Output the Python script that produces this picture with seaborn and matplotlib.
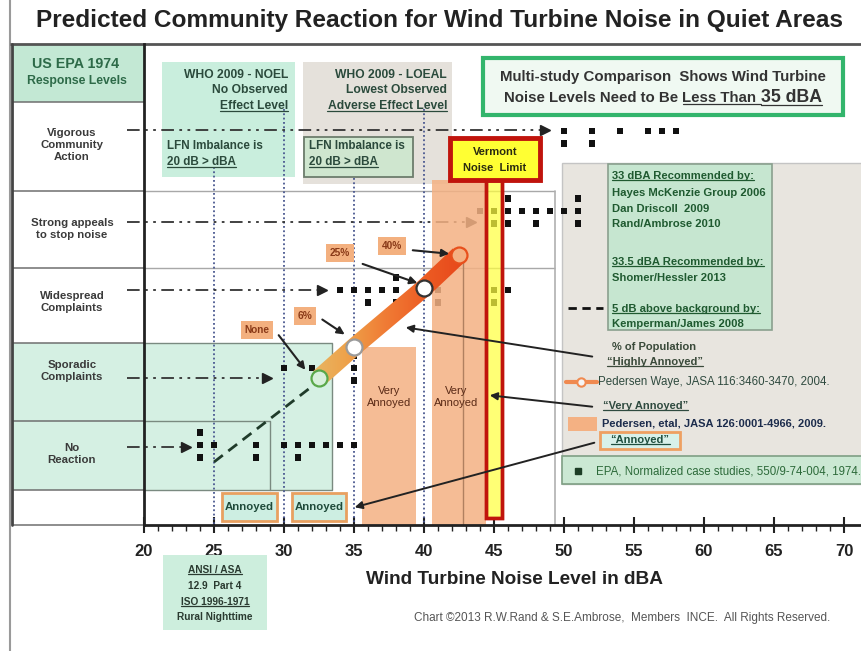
import numpy as np
import pandas as pd
import matplotlib
matplotlib.use("Agg")
import matplotlib.pyplot as plt
import seaborn as sns
from matplotlib.patches import Rectangle, Polygon
from matplotlib.colors import LinearSegmentedColormap

sns.set_theme(style="white")
plt.rcParams['font.family'] = ['Liberation Sans', 'DejaVu Sans']

# ---------------- data ----------------
title = "Predicted Community Reaction for Wind Turbine Noise in Quiet Areas"
response_levels = ["Vigorous\nCommunity\nAction", "Strong appeals\nto stop noise",
                   "Widespread\nComplaints", "Sporadic\nComplaints", "No\nReaction"]
x_ticks = [20, 25, 30, 35, 40, 45, 50, 55, 60, 65, 70]

# EPA normalized case studies (dBA), per response level, upper / middle / lower stack
vig_up, vig_mid, vig_low = [], [50, 52, 54, 56, 57, 58], [50, 52]
str_up, str_mid, str_low = [46, 51], [44, 45, 46, 47, 48, 49, 50, 51], [45, 46, 48, 51]
wid_up, wid_mid, wid_low = [38], [34, 35, 36, 37, 38, 40, 41, 45, 46], [36, 38, 41, 45]
spo_up, spo_mid, spo_low = [35], [30, 32, 33, 35], [35]
nor_up, nor_mid, nor_low = [24], [24, 25, 28, 30, 31, 32, 33, 34, 35], [24, 28, 31]

# Pedersen & Waye 2004, % highly annoyed (position on response scale)
pw_db = [32.5, 35, 40, 42.5]
pw_pct = ["None", "6%", "25%", "40%"]
pw_level = [378, 347, 288, 255]

# Pedersen et al 2009 "Very Annoyed" bins and "Annoyed" bins
va_lo = [35.6, 40.6]
va_hi = [39.4, 44.4]
va_top = [347, 180]
an_lo = [25.6, 30.6]
an_hi = [29.5, 34.4]

who_noel, who_loeal = 30, 40
lfn_levels = [25, 35]
vermont_limit = 45

# ---------------- figure ----------------
W, H = 862, 651
fig = plt.figure(figsize=(W / 100, H / 100), dpi=100)
ax = fig.add_axes([0, 0, 1, 1])
ax.set_facecolor('white')


def X(px):
    return 20 + (px - 144) / 14.0


X0, X1 = X(0), X(W)
ax.set_xlim(X0, X1)
ax.set_ylim(H, 0)


def rect(x0, x1, y0, y1, fc, ec='none', lw=0, z=1, alpha=1.0, px=True):
    if px:
        x0, x1 = X(x0), X(x1)
    r = Rectangle((x0, y0), x1 - x0, y1 - y0, facecolor=fc, edgecolor=ec, lw=lw,
                  zorder=z, alpha=alpha)
    ax.add_patch(r)
    return r


def hline(y, px0, px1, color='#888', lw=1, z=2, **kw):
    ax.plot([X(px0), X(px1)], [y, y], color=color, lw=lw, zorder=z, solid_capstyle='butt', **kw)


def vline(px, y0, y1, color='#888', lw=1, z=2, **kw):
    ax.plot([X(px), X(px)], [y0, y1], color=color, lw=lw, zorder=z, **kw)


underlines = []


def txt(px, y, s, size=7.5, color='#333', weight='bold', ha='center', va='center',
        u=False, z=9, **kw):
    t = ax.text(X(px), y, s, fontsize=size, color=color, fontweight=weight, ha=ha,
                va=va, zorder=z, **kw)
    if u:
        underlines.append(t)
    return t


# page borders
vline(10, 0, H, color='#9a9a9a', lw=1.5, z=3)
hline(44, 10, W, color='#555', lw=2, z=3)

# left column
rect(12, 144, 44, 102, '#c3e8d4', z=1)
rect(12, 332, 343, 490, '#d5f0e3', z=1)
for yy in [102, 191, 268, 343, 421, 490, 525]:
    hline(yy, 12, 144, color='#6f6f6f', lw=1.1, z=2)
vline(12, 44, 525, color='#444', lw=2, z=3)
hline(191, 144, 555, color='#a8a8a8', lw=1, z=2)
hline(268, 144, 555, color='#a8a8a8', lw=1, z=2)
hline(343, 144, 332, color='#7a8a80', lw=1, z=2)
hline(421, 144, 270, color='#7a8a80', lw=1, z=2)
hline(490, 144, 332, color='#7a8a80', lw=1, z=2)
vline(270, 421, 490, color='#7a8a80', lw=1, z=2)
vline(332, 343, 490, color='#7a8a80', lw=1, z=2)
vline(555, 191, 525, color='#b0b0b0', lw=1.2, z=2)

txt(76, 64, "US EPA 1974", size=10.3, color='#2d6a48')
txt(77, 81, "Response Levels", size=8.8, color='#2d6a48')
label_y = [145, 229, 302, 371, 454]
for lab, yy in zip(response_levels, label_y):
    txt(72, yy, lab, size=8.2, color='#3a3a3a', linespacing=1.3)

# WHO boxes
rect(162, 295, 62, 177, '#c9eedd', z=1)
rect(303, 452, 62, 184, '#e5e1db', z=1)
rect(304, 413, 137, 177, '#cfe6cf', ec='#6d7d6d', lw=1.3, z=1.5)
tc = '#2b4a3c'
txt(288, 75, "WHO 2009 - NOEL", size=8.7, color=tc, ha='right')
txt(288, 90, "No Observed", size=8.7, color=tc, ha='right')
txt(288, 106, "Effect Level", size=8.7, color=tc, ha='right', u=True)
txt(167, 146, "LFN Imbalance is", size=8.4, color=tc, ha='left')
txt(167, 162, "20 dB > dBA", size=8.4, color=tc, ha='left', u=True)
txt(447, 75, "WHO 2009 - LOEAL", size=8.7, color=tc, ha='right')
txt(447, 90, "Lowest Observed", size=8.7, color=tc, ha='right')
txt(447, 106, "Adverse Effect Level", size=8.7, color=tc, ha='right', u=True)
txt(309, 146, "LFN Imbalance is", size=8.4, color=tc, ha='left')
txt(309, 162, "20 dB > dBA", size=8.4, color=tc, ha='left', u=True)

# multi-study box
rect(483, 843, 58, 115, '#f0f9f2', ec='#33b56c', lw=3, z=1.5)

# gray panel and boxes
rect(562, W + 5, 163, 484, '#e8e5df', ec='#c4c4c4', lw=1, z=1)
rect(608, 772, 164, 330, '#c6e6d0', ec='#8aa08e', lw=1.2, z=1.5)
rect(562, W + 5, 456, 484, '#cbe8d3', ec='#7f9f84', lw=1.2, z=1.5)
rect(600, 680, 432, 449, '#d8f1ea', ec='#eea062', lw=2, z=1.5)
rect(568, 597, 417, 431, '#f4b183', z=2)
ax.plot([X(568), X(603)], [308, 308], color='#111', lw=2, dashes=(3, 2), zorder=3)

# annoyed boxes (Pedersen 2009 "Annoyed")
for lo, hi in zip(an_lo, an_hi):
    rect(lo, hi, 493, 521, '#cdeee2', ec='#e8a060', lw=2, z=1.5, px=False)

# ANSI box
rect(163, 267, 555, 630, '#cdeedd', z=1)

# WHO / LFN dotted lines
dot_style = dict(color='#4a5890', lw=1.3, linestyle=(0, (1, 1.4)), zorder=2.5)
for xv, y0 in [(lfn_levels[0], 167), (who_noel, 109), (lfn_levels[1], 178), (who_loeal, 109)]:
    ax.plot([xv, xv], [y0, 525], **dot_style)

# EPA case-study squares (seaborn)
row_center = [131, 211, 290, 368, 445]
groups = [(vig_up, vig_mid, vig_low), (str_up, str_mid, str_low), (wid_up, wid_mid, wid_low),
          (spo_up, spo_mid, spo_low), (nor_up, nor_mid, nor_low)]
recs = []
for yc, (up, mid, low) in zip(row_center, groups):
    for vals, off in [(up, -12.5), (mid, 0), (low, 12.5)]:
        for v in vals:
            recs.append({"dBA": v, "pos": yc + off})
epa = pd.DataFrame(recs)
sns.scatterplot(data=epa, x="dBA", y="pos", marker='s', s=24, color='#111', edgecolor='none',
                ax=ax, zorder=3, legend=False)

# dash-dot arrows from response levels
arrow_y = [130, 222, 290, 378, 447]
arrow_end = [545, 471, 322, 267, 186]
for yy, xe in zip(arrow_y, arrow_end):
    ax.plot([X(127), X(xe)], [yy, yy], color='#333', lw=1.3, dashes=(7, 3, 1.5, 3, 1.5, 3), zorder=4)
    ax.plot([X(xe)], [yy], marker='>', ms=7, color='#222', zorder=4)

# Very annoyed bars
for lo, hi, top in zip(va_lo, va_hi, va_top):
    rect(lo, hi, top, 525, '#f4b183', z=4, alpha=0.85, px=False)
txt(389, 397, "Very\nAnnoyed", size=8, color='#5a2a16', weight='normal')
txt(456, 397, "Very\nAnnoyed", size=8, color='#5a2a16', weight='normal')
ax.plot([X(463), X(463)], [258, 525], color='#b08060', lw=1, zorder=4.5)

# Vermont noise limit
rect(vermont_limit - 0.55, vermont_limit + 0.55, 180, 518, '#ffff40', ec='#c0140c', lw=2.5,
     z=5, alpha=0.72, px=False)
rect(vermont_limit - 0.55, vermont_limit + 0.55, 180, 518, 'none', ec='#c0140c', lw=2.5,
     z=5.1, px=False)
rect(450, 540, 138, 180, '#ffff33', ec='#c0140c', lw=3.5, z=6)
txt(495, 152, "Vermont", size=8, color='#2a2a10')
txt(495, 168, "Noise  Limit", size=8, color='#2a2a10')

# dashed lead-in to Pedersen Waye curve
ax.plot([25, pw_db[0]], [462, pw_level[0] + 3], color='#1f3b2a', lw=2, dashes=(4, 2.5), zorder=5)

# gradient band through Pedersen Waye points
P = np.array([[144 + 14 * (d - 20), y] for d, y in zip(pw_db, pw_level)], dtype=float)
hw = 9.0
normals = []
for i in range(len(P)):
    a = P[max(i - 1, 0)]
    b = P[min(i + 1, len(P) - 1)]
    t = (b - a) / np.hypot(*(b - a))
    normals.append(np.array([-t[1], t[0]]))
normals = np.array(normals)
outline = np.vstack([P + hw * normals, (P - hw * normals)[::-1]])
outline_d = np.column_stack([X(outline[:, 0]), outline[:, 1]])
band = Polygon(outline_d, closed=True, transform=ax.transData, facecolor='none', edgecolor='none')
ax.add_patch(band)
cmap = LinearSegmentedColormap.from_list("band", ['#e6bb6a', '#eea24a', '#f07a34', '#ec5a22', '#e6441a'])
grad = np.linspace(0, 1, 256).reshape(1, -1)
im = ax.imshow(grad, extent=(X(305), X(470), 395, 240), cmap=cmap, aspect='auto',
               zorder=6, interpolation='bilinear')
im.set_clip_path(band)
ax.set_xlim(X0, X1)
ax.set_ylim(H, 0)

# circles
circ_face = ['#d8f0dc', 'white', 'white', '#f4b183']
circ_edge = ['#5aa84a', '#9a9a9a', '#333333', '#e8501c']
for d, y, fc, ec in zip(pw_db, pw_level, circ_face, circ_edge):
    ax.plot([d], [y], marker='o', ms=11.5, mfc=fc, mec=ec, mew=1.6, zorder=7)

# percent labels and arrows
lab_pos = [(257, 330), (305, 316), (340, 253), (392, 246)]
arr_from = [(277, 333), (320, 318), (360, 263), (410, 250)]
arr_to = [(307, 372), (347, 336), (420, 284), (452, 254)]
for s, (lx, ly), (fx, fy), (tx, ty) in zip(pw_pct, lab_pos, arr_from, arr_to):
    txt(lx, ly, s, size=7.3, color='#8a3a18',
        bbox=dict(boxstyle='square,pad=0.35', fc='#f3b07f', ec='none'))
    ax.annotate("", xy=(X(tx), ty), xytext=(X(fx), fy),
                arrowprops=dict(arrowstyle='-|>', color='#222', lw=1.5, mutation_scale=11),
                zorder=8)

# legend arrows
for (fx, fy), (tx, ty) in [((595, 357), (403, 327)), ((595, 407), (487, 395)), ((597, 442), (352, 508))]:
    ax.annotate("", xy=(X(tx), ty), xytext=(X(fx), fy),
                arrowprops=dict(arrowstyle='-|>', color='#222', lw=1.4, mutation_scale=11),
                zorder=8)

# annoyed box texts
for lo, hi in zip(an_lo, an_hi):
    ax.text((lo + hi) / 2, 507, "Annoyed", fontsize=8.2, color='#1f4a3a', fontweight='bold',
            ha='center', va='center', zorder=9)

# multi-study text
txt(663, 77, "Multi-study Comparison  Shows Wind Turbine", size=10.8, color='#333')
ms_parts = [("Noise Levels Need to Be ", 10.8, False), ("Less Than ", 10.8, True), ("35 dBA", 12.8, True)]

# panel texts
gc = '#1f5a30'
rec_lines = [("33 dBA Recommended by:", 176, True), ("Hayes McKenzie Group 2006", 193, False),
             ("Dan Driscoll  2009", 209, False), ("Rand/Ambrose 2010", 224, False),
             ("33.5 dBA Recommended by:", 262, True), ("Shomer/Hessler 2013", 278, False),
             ("5 dB above background by:", 309, True), ("Kemperman/James 2008", 324, False)]
for s, yy, uu in rec_lines:
    txt(612, yy, s, size=8.1, color=gc, ha='left', u=uu)

txt(612, 347, "% of Population", size=8, color='#3a4a3a', ha='left')
txt(607, 362, "\u201cHighly Annoyed\u201d", size=8, color='#3a4a3a', ha='left', u=True)
ax.plot([X(566), X(597)], [382, 382], color='#f08a50', lw=3, zorder=3)
ax.plot([X(581)], [382], marker='o', ms=6, mfc='#f5f5f5', mec='#f08a50', mew=1.5, zorder=3.5)
txt(598, 382, "Pedersen Waye, JASA 116:3460-3470, 2004.", size=8.3, color='#2f4a3f', weight='normal', ha='left')
txt(603, 406, "\u201cVery Annoyed\u201d", size=8, color='#2f4a3f', ha='left', u=True)
txt(602, 423, "Pedersen, etal, JASA 126:0001-4966, 2009.", size=8, color='#1c2c4c', ha='left')
txt(640, 440, "\u201cAnnoyed\u201d", size=8, color='#1f4f3f', u=True)
ax.plot([X(578)], [471], marker='s', ms=4.5, color='#1d3d25', zorder=3)
txt(596, 471, "EPA, Normalized case studies, 550/9-74-004, 1974.", size=8.3, color='#2d6a3a',
    weight='normal', ha='left')

# ANSI text
for s, yy, uu in [("ANSI / ASA", 570, True), ("12.9  Part 4", 586, False),
                  ("ISO 1996-1971", 602, True), ("Rural Nighttime", 617, False)]:
    txt(215, yy, s, size=7.3, color='#2a3a30', u=uu)

# title, axis label, copyright
ax.text(X(440), 20, title, fontsize=17.6, fontweight='bold', color='#222', ha='center', va='center')
txt(515, 580, "Wind Turbine Noise Level in dBA", size=13.7, color='#222')
txt(622, 618, "Chart \u00a92013 R.W.Rand & S.E.Ambrose,  Members  INCE.  All Rights Reserved.",
    size=8.5, color='#555', weight='normal')

# axes: bottom axis with ticks, left spine
for side in ['top', 'right']:
    ax.spines[side].set_visible(False)
ax.spines['bottom'].set_position(('data', 525))
ax.spines['bottom'].set_bounds(20, X1)
ax.spines['left'].set_position(('data', 20))
ax.spines['left'].set_bounds(44, 525)
for side in ['bottom', 'left']:
    ax.spines[side].set_color('#222')
    ax.spines[side].set_linewidth(2)
    ax.spines[side].set_zorder(8)
ax.set_xticks(x_ticks)
ax.set_xticks(np.arange(20, 71, 1), minor=True)
ax.set_xticklabels([str(v) for v in x_ticks])
ax.tick_params(axis='x', which='major', direction='inout', length=11, width=1.5, colors='#222',
               labelsize=12, pad=8, bottom=True)
ax.tick_params(axis='x', which='minor', direction='out', length=4, width=1, colors='#222', bottom=True)
for lbl in ax.get_xticklabels():
    lbl.set_fontweight('bold')
ax.set_yticks([])
ax.set_xlabel("")
ax.set_ylabel("")
ax.grid(False)

# layout of multi-run line and underlines
fig.canvas.draw()
renderer = fig.canvas.get_renderer()
inv = ax.transData.inverted()
runs = []
total = 0
for s, sz, uu in ms_parts:
    t = ax.text(0, 97, s, fontsize=sz, fontweight='bold', color='#333', ha='left', va='baseline', zorder=9)
    w = t.get_window_extent(renderer).width
    runs.append((t, w, uu))
    total += w
cx = ax.transData.transform((X(663), 0))[0]
start = cx - total / 2
for t, w, uu in runs:
    xd = inv.transform((start, 0))[0]
    t.set_x(xd)
    t.set_y(102)
    if uu:
        underlines.append(t)
    start += w
fig.canvas.draw()
for t in underlines:
    bb = t.get_window_extent(renderer)
    (x0, y0), (x1, _) = inv.transform([(bb.x0, bb.y0 + 1), (bb.x1, bb.y0 + 1)])
    ax.plot([x0, x1], [y0, y0], color=t.get_color(), lw=0.9, zorder=9)

ax.set_xlim(X0, X1)
ax.set_ylim(H, 0)
fig.savefig("out.png", dpi=100)
